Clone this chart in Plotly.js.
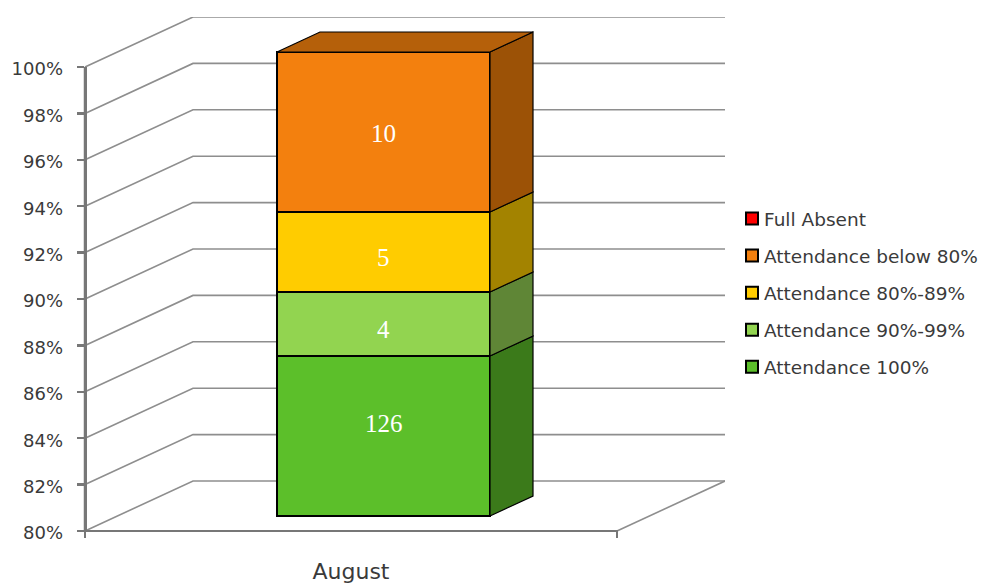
<!DOCTYPE html>
<html>
<head>
<meta charset="utf-8">
<script src="https://cdn.plot.ly/plotly-3.0.1.min.js"></script>
<style>html,body{margin:0;padding:0;background:#fff}#chart{width:981px;height:583px}</style>
</head>
<body>
<div id="chart"></div>
<script>
// ---- data ----
const categories = ['August'];
const seriesNames = ['Attendance 100%', 'Attendance 90%-99%', 'Attendance 80%-89%', 'Attendance below 80%', 'Full Absent'];
const seriesCounts = [126, 4, 5, 10, 0];
const frontColors = ['#5CBF2A', '#92D450', '#FFCC00', '#F3800E', '#FF0000'];
const sideColors = ['#3B7A1A', '#5F8636', '#A38300', '#9C5206', '#9C0000'];
const topColor = '#B5600A';
const yTickValues = [80, 82, 84, 86, 88, 90, 92, 94, 96, 98, 100];
const yTickLabels = ['80%', '82%', '84%', '86%', '88%', '90%', '92%', '94%', '96%', '98%', '100%'];

// ---- geometry (axis units) ----
const pxPerPct = 23.2, pxPerX = 532, tickPx = 7;
const plotL = 85, plotR = 725, plotT = 17, plotB = 531;
const viewL = plotL - tickPx - 2, viewB = plotB + tickPx + 2;
const padX = (plotL - viewL) / pxPerX, padY = (viewB - plotB) / pxPerPct;
const tickY = tickPx / pxPerPct;
const wallDx = 108 / pxPerX, wallDy = 50 / pxPerPct;
const barLift = 15 / pxPerPct;
const barCenter = (383.5 - plotL) / pxPerX, barWidth = 213 / pxPerX;
const barDx = 43 / pxPerX, barDy = 20 / pxPerPct;
const yMin = 80, yMax = yMin + (plotB - plotT) / pxPerPct;
const xMax = (plotR - plotL) / pxPerX;
const gridColor = '#8E8E8E', axisColor = '#777777', textColor = '#3A3A3A';
const labelNudge = [13, -5, -5, -1];

const total = seriesCounts.reduce((a, b) => a + b, 0);
let run = 0;
const spans = seriesCounts.map(c => {
  const start = run; run += c / total * 100;
  return { lo: Math.max(start, yMin), hi: run };
});

const traces = [];
// walls and floor
const gx = [], gy = [];
yTickValues.forEach(v => {
  gx.push(0, wallDx, 1 + wallDx, null);
  gy.push(v, v + wallDy, v + wallDy, null);
});
gx.push(1, 1 + wallDx);
gy.push(yMin, yMin + wallDy);
traces.push({ type: 'scatter', mode: 'lines', x: gx, y: gy, xaxis: 'x', yaxis: 'y', showlegend: false,
  hoverinfo: 'skip', line: { color: gridColor, width: 1.6 } });
// the value axis proper: a separate axis running from 80% to 100% only
traces.push({ type: 'scatter', mode: 'lines', x: [0, 0], y: [yMin, 100], xaxis: 'x', yaxis: 'y3', showlegend: false,
  hoverinfo: 'skip', line: { color: axisColor, width: 2.5 } });

// front faces (listed top-of-legend first)
for (let i = seriesNames.length - 1; i >= 0; i--) {
  const name = seriesNames[i];
  traces.push({ type: 'bar', name, legendgroup: name, x: [barCenter], y: [spans[i].hi - spans[i].lo], base: [spans[i].lo],
    width: [barWidth], xaxis: 'x', yaxis: 'y2', hoverinfo: 'skip',
    marker: { color: frontColors[i], line: { color: '#000', width: 2 } } });
}
// side and top faces
const xr = barCenter + barWidth / 2, xl = barCenter - barWidth / 2;
spans.forEach((s, i) => {
  if (seriesCounts[i] === 0) return;
  traces.push({ type: 'scatter', mode: 'lines', fill: 'toself', fillcolor: sideColors[i], showlegend: false, hoverinfo: 'skip',
    x: [xr, xr + barDx, xr + barDx, xr, xr], y: [s.lo, s.lo + barDy, s.hi + barDy, s.hi, s.lo],
    xaxis: 'x', yaxis: 'y2', line: { color: '#000', width: 1.2 } });
});
traces.push({ type: 'scatter', mode: 'lines', fill: 'toself', fillcolor: topColor, showlegend: false, hoverinfo: 'skip',
  x: [xl, xr, xr + barDx, xl + barDx, xl], y: [run, run, run + barDy, run + barDy, run],
  xaxis: 'x', yaxis: 'y2', line: { color: '#000', width: 1.2 } });

// category axis line and its end ticks
traces.push({ type: 'scatter', mode: 'lines', x: [0, 0, 1, 1], y: [yMin - tickY, yMin, yMin, yMin - tickY].map(v => v - barLift),
  xaxis: 'x', yaxis: 'y2', showlegend: false, hoverinfo: 'skip', line: { color: axisColor, width: 2 } });

const annotations = spans.slice(0, 4).map((s, i) => ({
  x: barCenter, y: (s.lo + s.hi) / 2, xref: 'x', yref: 'y2', yshift: labelNudge[i],
  text: String(seriesCounts[i]), showarrow: false,
  font: { family: 'Liberation Serif, serif', size: 25, color: '#fff' }
}));

const h = 583, w = 981;
const plotH = viewB - plotT;
const layout = {
  width: w, height: h, margin: { l: viewL, r: w - plotR, t: plotT, b: h - viewB, pad: 0, autoexpand: false },
  paper_bgcolor: '#fff', plot_bgcolor: 'rgba(0,0,0,0)', barmode: 'overlay', showlegend: true,
  xaxis: { range: [-padX, xMax], tickmode: 'array', tickvals: [0.5], ticktext: categories, ticks: '', showgrid: false, zeroline: false,
    showline: false, ticklabelstandoff: 16, automargin: false, tickfont: { family: 'DejaVu Sans, sans-serif', size: 22, color: textColor } },
  yaxis: { range: [yMin - padY, yMax], tickmode: 'array', tickvals: yTickValues, ticktext: yTickLabels, showgrid: false, zeroline: false,
    ticks: '', showline: false, ticklabelstandoff: 12, ticklabelshift: 2, automargin: false,
    tickfont: { family: 'DejaVu Sans, sans-serif', size: 18, color: textColor } },
  yaxis2: { range: [yMin - padY - barLift, yMax - barLift], overlaying: 'y', visible: false },
  yaxis3: { domain: [(viewB - plotB) / plotH, (viewB - (plotB - 20 * pxPerPct)) / plotH], range: [yMin, 100],
    anchor: 'free', position: (plotL - viewL) / (plotR - viewL), side: 'left',
    tickmode: 'array', tickvals: yTickValues, showticklabels: false, ticks: 'outside', ticklen: tickPx, tickwidth: 2.5, tickcolor: axisColor,
    showline: true, linecolor: axisColor, linewidth: 2.5, showgrid: false, zeroline: false, automargin: false },
  legend: { x: (724 - viewL) / (plotR - viewL), xanchor: 'left', y: 1 - (200 - plotT) / (viewB - plotT), yanchor: 'top',
    traceorder: 'grouped', tracegroupgap: 10, bgcolor: 'rgba(0,0,0,0)',
    font: { family: 'DejaVu Sans, sans-serif', size: 18.5, color: textColor } },
  annotations
};
Plotly.newPlot('chart', traces, layout, { displayModeBar: false, staticPlot: true }).then(gd => {
  gd.querySelectorAll('.legend .legendsymbols').forEach(n => n.setAttribute('transform', 'translate(8,0)'));
});
</script>
</body>
</html>
